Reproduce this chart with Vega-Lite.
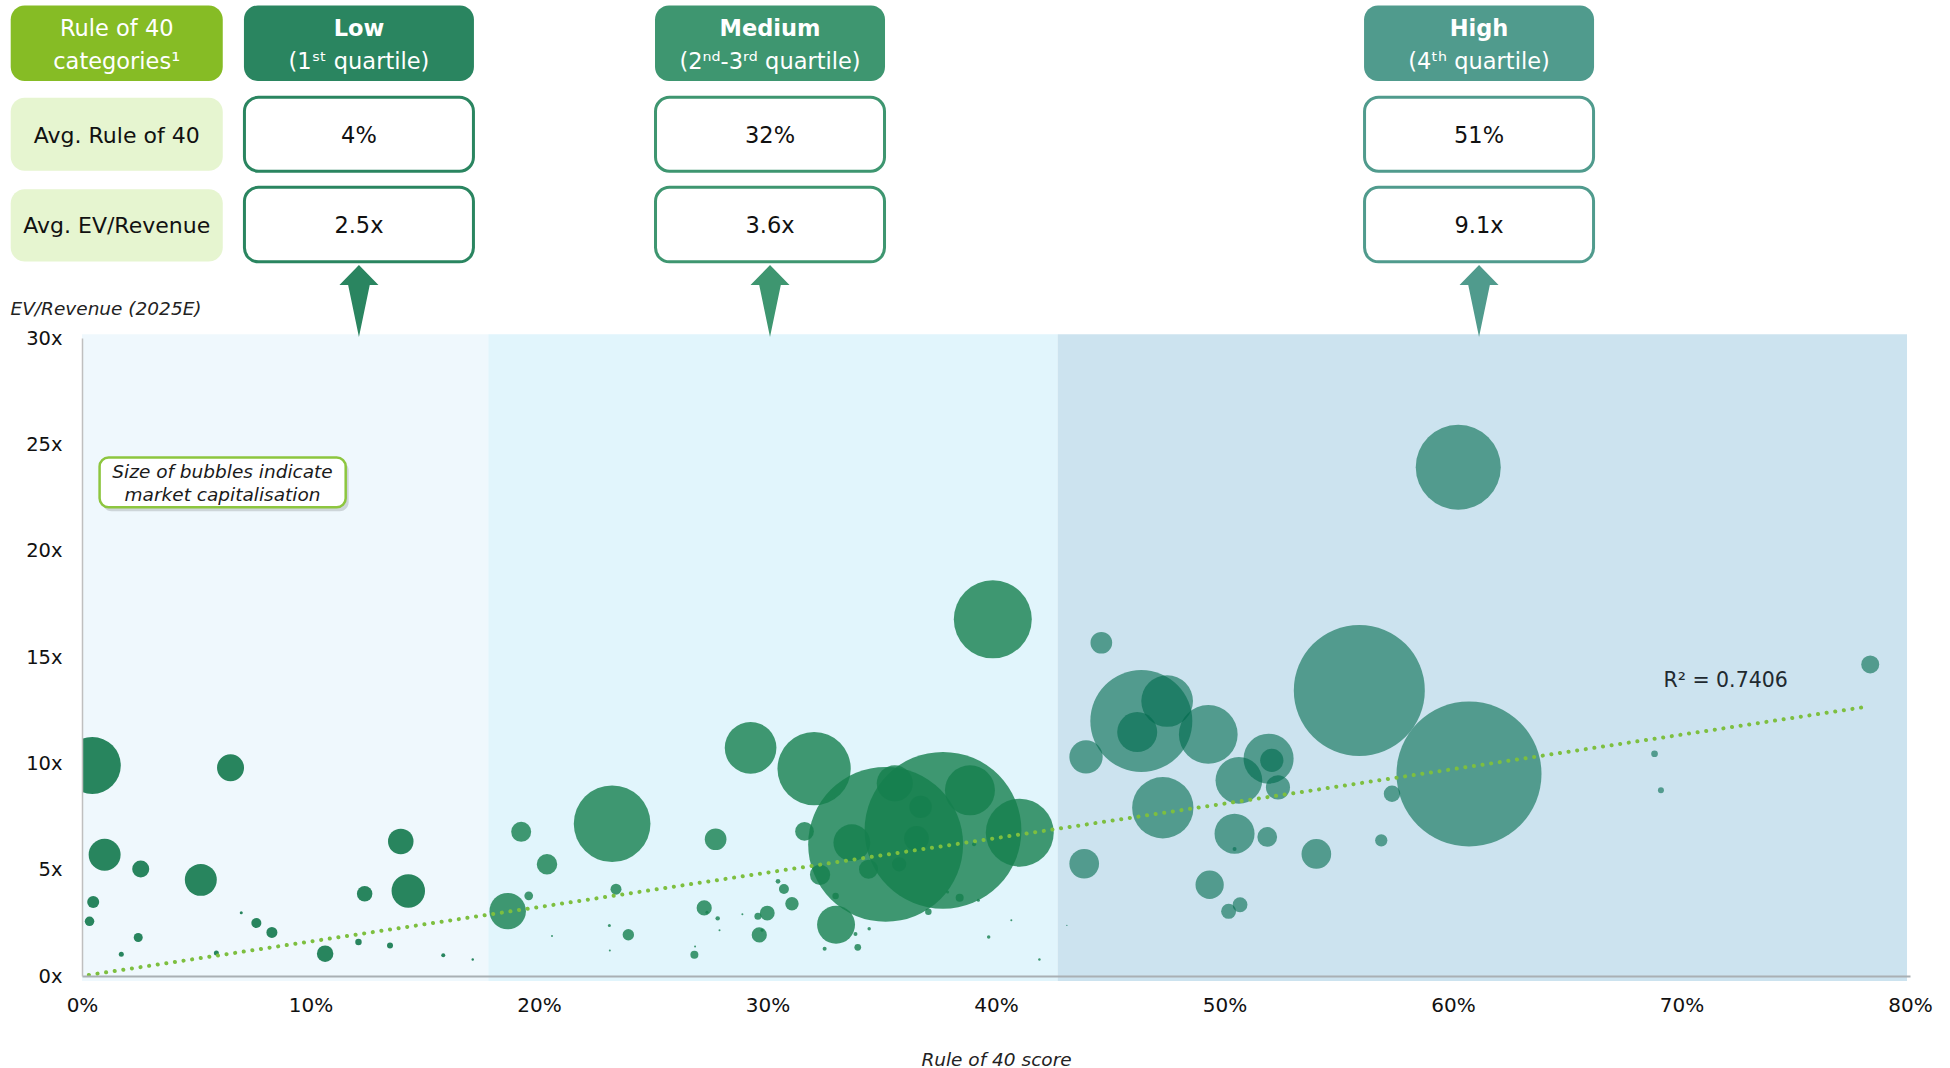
{
  "$schema": "https://vega.github.io/schema/vega-lite/v6.json",
  "width": 1828,
  "height": 638,
  "autosize": {"type": "none"},
  "padding": {"left": 82, "top": 338, "right": 40, "bottom": 92},
  "background": "white",
  "config": {"view": {"stroke": null}, "font": "DejaVu Sans"},
  "datasets": {
    "bands": [
      {"cat": "Low", "from": 0, "to": 17.78},
      {"cat": "Medium", "from": 17.78, "to": 42.7},
      {"cat": "High", "from": 42.7, "to": 79.87}
    ],
    "cats": [
      {"cat": "Low", "xc": 12.12, "title": "Low", "sub": "(1ˢᵗ quartile)", "avg40": "4%", "evrev": "2.5x"},
      {"cat": "Medium", "xc": 30.11, "title": "Medium", "sub": "(2ⁿᵈ-3ʳᵈ quartile)", "avg40": "32%", "evrev": "3.6x"},
      {"cat": "High", "xc": 61.14, "title": "High", "sub": "(4ᵗʰ quartile)", "avg40": "51%", "evrev": "9.1x"}
    ],
    "trend": [
      {"r40": 0.3, "ev": 0.05},
      {"r40": 78.1, "ev": 12.66}
    ],
    "bubbles": [
      {"cat": "Low", "r40": 0.45, "ev": 9.9, "mcap": 32.5},
      {"cat": "Low", "r40": 0.99, "ev": 5.7, "mcap": 10.2},
      {"cat": "Low", "r40": 2.57, "ev": 5.03, "mcap": 2.9},
      {"cat": "Low", "r40": 5.2, "ev": 4.52, "mcap": 10.2},
      {"cat": "Low", "r40": 0.49, "ev": 3.48, "mcap": 1.44},
      {"cat": "Low", "r40": 0.33, "ev": 2.57, "mcap": 0.9},
      {"cat": "Low", "r40": 2.46, "ev": 1.81, "mcap": 0.81},
      {"cat": "Low", "r40": 1.72, "ev": 1.02, "mcap": 0.25},
      {"cat": "Low", "r40": 5.88, "ev": 1.08, "mcap": 0.25},
      {"cat": "Low", "r40": 6.97, "ev": 2.97, "mcap": 0.09},
      {"cat": "Low", "r40": 6.5, "ev": 9.79, "mcap": 7.3},
      {"cat": "Low", "r40": 7.63, "ev": 2.49, "mcap": 1.0},
      {"cat": "Low", "r40": 8.31, "ev": 2.05, "mcap": 1.21},
      {"cat": "Low", "r40": 10.64, "ev": 1.05, "mcap": 2.72},
      {"cat": "Low", "r40": 12.1, "ev": 1.6, "mcap": 0.42},
      {"cat": "Low", "r40": 12.37, "ev": 3.87, "mcap": 2.4},
      {"cat": "Low", "r40": 13.48, "ev": 1.44, "mcap": 0.36},
      {"cat": "Low", "r40": 13.95, "ev": 6.33, "mcap": 6.5},
      {"cat": "Low", "r40": 14.28, "ev": 4.0, "mcap": 11.2},
      {"cat": "Low", "r40": 15.81, "ev": 0.97, "mcap": 0.16},
      {"cat": "Low", "r40": 17.1, "ev": 0.78, "mcap": 0.06},
      {"cat": "Medium", "r40": 18.63, "ev": 3.05, "mcap": 13.3},
      {"cat": "Medium", "r40": 19.22, "ev": 6.78, "mcap": 4.0},
      {"cat": "Medium", "r40": 19.55, "ev": 3.77, "mcap": 0.76},
      {"cat": "Medium", "r40": 20.35, "ev": 5.25, "mcap": 4.2},
      {"cat": "Medium", "r40": 20.57, "ev": 1.88, "mcap": 0.04},
      {"cat": "Medium", "r40": 29.26, "ev": 10.73, "mcap": 26.7},
      {"cat": "Medium", "r40": 32.04, "ev": 9.75, "mcap": 53.7},
      {"cat": "Medium", "r40": 23.2, "ev": 7.16, "mcap": 58.8},
      {"cat": "Medium", "r40": 39.86, "ev": 16.77, "mcap": 60.8},
      {"cat": "Medium", "r40": 35.17, "ev": 6.19, "mcap": 240},
      {"cat": "Medium", "r40": 37.68, "ev": 6.85, "mcap": 246},
      {"cat": "Medium", "r40": 38.86, "ev": 8.73, "mcap": 25},
      {"cat": "Medium", "r40": 41.04, "ev": 6.74, "mcap": 46.2},
      {"cat": "Medium", "r40": 35.57, "ev": 9.06, "mcap": 13},
      {"cat": "Medium", "r40": 36.7, "ev": 7.95, "mcap": 5},
      {"cat": "Medium", "r40": 33.69, "ev": 6.27, "mcap": 13.5},
      {"cat": "Medium", "r40": 36.52, "ev": 6.47, "mcap": 6.1},
      {"cat": "Medium", "r40": 31.62, "ev": 6.8, "mcap": 3.5},
      {"cat": "Medium", "r40": 32.3, "ev": 4.76, "mcap": 4.1},
      {"cat": "Medium", "r40": 34.42, "ev": 5.02, "mcap": 3.6},
      {"cat": "Medium", "r40": 35.76, "ev": 5.25, "mcap": 2.0},
      {"cat": "Medium", "r40": 33.0, "ev": 2.41, "mcap": 14.4},
      {"cat": "Medium", "r40": 31.07, "ev": 3.4, "mcap": 1.8},
      {"cat": "Medium", "r40": 30.72, "ev": 4.09, "mcap": 1.0},
      {"cat": "Medium", "r40": 30.46, "ev": 4.45, "mcap": 0.22},
      {"cat": "Medium", "r40": 29.99, "ev": 2.96, "mcap": 2.2},
      {"cat": "Medium", "r40": 29.58, "ev": 2.81, "mcap": 0.49},
      {"cat": "Medium", "r40": 29.64, "ev": 1.93, "mcap": 2.3},
      {"cat": "Medium", "r40": 29.76, "ev": 2.15, "mcap": 0.09},
      {"cat": "Medium", "r40": 27.23, "ev": 3.2, "mcap": 2.3},
      {"cat": "Medium", "r40": 27.82, "ev": 2.71, "mcap": 0.2},
      {"cat": "Medium", "r40": 27.9, "ev": 2.15, "mcap": 0.04},
      {"cat": "Medium", "r40": 28.9, "ev": 2.9, "mcap": 0.04},
      {"cat": "Medium", "r40": 27.73, "ev": 6.43, "mcap": 4.7},
      {"cat": "Medium", "r40": 26.8, "ev": 1.0, "mcap": 0.64},
      {"cat": "Medium", "r40": 26.83, "ev": 1.39, "mcap": 0.04},
      {"cat": "Medium", "r40": 23.91, "ev": 1.94, "mcap": 1.3},
      {"cat": "Medium", "r40": 23.37, "ev": 4.08, "mcap": 1.2},
      {"cat": "Medium", "r40": 23.08, "ev": 2.37, "mcap": 0.09},
      {"cat": "Medium", "r40": 23.1, "ev": 1.2, "mcap": 0.04},
      {"cat": "Medium", "r40": 32.98, "ev": 3.76, "mcap": 0.42},
      {"cat": "Medium", "r40": 32.5, "ev": 1.28, "mcap": 0.16},
      {"cat": "Medium", "r40": 33.85, "ev": 1.97, "mcap": 0.16},
      {"cat": "Medium", "r40": 33.95, "ev": 1.35, "mcap": 0.45},
      {"cat": "Medium", "r40": 34.45, "ev": 2.22, "mcap": 0.12},
      {"cat": "Medium", "r40": 37.04, "ev": 3.02, "mcap": 0.42},
      {"cat": "Medium", "r40": 37.88, "ev": 3.95, "mcap": 0.09},
      {"cat": "Medium", "r40": 38.41, "ev": 3.68, "mcap": 0.64},
      {"cat": "Medium", "r40": 39.04, "ev": 6.19, "mcap": 0.16},
      {"cat": "Medium", "r40": 39.23, "ev": 3.56, "mcap": 0.09},
      {"cat": "Medium", "r40": 40.67, "ev": 2.62, "mcap": 0.04},
      {"cat": "Medium", "r40": 39.68, "ev": 1.83, "mcap": 0.12},
      {"cat": "Medium", "r40": 41.9, "ev": 0.78, "mcap": 0.06},
      {"cat": "Medium", "r40": 27.35, "ev": 3.0, "mcap": 0.09},
      {"cat": "High", "r40": 43.1, "ev": 2.38, "mcap": 0.02},
      {"cat": "High", "r40": 60.23, "ev": 23.92, "mcap": 72.3},
      {"cat": "High", "r40": 55.9, "ev": 13.43, "mcap": 171.6},
      {"cat": "High", "r40": 60.7, "ev": 9.5, "mcap": 210.3},
      {"cat": "High", "r40": 44.61, "ev": 15.67, "mcap": 4.7},
      {"cat": "High", "r40": 46.36, "ev": 11.99, "mcap": 104},
      {"cat": "High", "r40": 47.49, "ev": 12.93, "mcap": 26.7},
      {"cat": "High", "r40": 46.18, "ev": 11.47, "mcap": 16},
      {"cat": "High", "r40": 49.29, "ev": 11.36, "mcap": 34.5},
      {"cat": "High", "r40": 43.94, "ev": 10.3, "mcap": 11.1},
      {"cat": "High", "r40": 51.93, "ev": 10.22, "mcap": 25},
      {"cat": "High", "r40": 52.07, "ev": 10.14, "mcap": 5.4},
      {"cat": "High", "r40": 50.63, "ev": 9.2, "mcap": 21.8},
      {"cat": "High", "r40": 52.34, "ev": 8.87, "mcap": 5.8},
      {"cat": "High", "r40": 47.3, "ev": 7.91, "mcap": 37.6},
      {"cat": "High", "r40": 50.44, "ev": 6.69, "mcap": 16},
      {"cat": "High", "r40": 50.44, "ev": 5.97, "mcap": 0.16},
      {"cat": "High", "r40": 51.87, "ev": 6.54, "mcap": 3.9},
      {"cat": "High", "r40": 54.02, "ev": 5.74, "mcap": 8.8},
      {"cat": "High", "r40": 56.86, "ev": 6.38, "mcap": 1.5},
      {"cat": "High", "r40": 57.33, "ev": 8.57, "mcap": 2.7},
      {"cat": "High", "r40": 68.82, "ev": 10.45, "mcap": 0.45},
      {"cat": "High", "r40": 69.1, "ev": 8.73, "mcap": 0.36},
      {"cat": "High", "r40": 43.86, "ev": 5.28, "mcap": 8.8},
      {"cat": "High", "r40": 49.35, "ev": 4.29, "mcap": 8.0},
      {"cat": "High", "r40": 50.68, "ev": 3.35, "mcap": 2.2},
      {"cat": "High", "r40": 50.18, "ev": 3.04, "mcap": 2.25},
      {"cat": "High", "r40": 78.26, "ev": 14.65, "mcap": 3.24}
    ]
  },
  "resolve": {"scale": {"fill": "independent", "stroke": "independent"}},
  "layer": [
    {
      "data": {"name": "bands"},
      "mark": {"type": "rect"},
      "encoding": {
        "x": {"field": "from", "type": "quantitative", "scale": {"domain": [0, 80], "nice": false}},
        "x2": {"field": "to"},
        "y": {"datum": 30.18, "type": "quantitative", "scale": {"domain": [0, 30], "nice": false}},
        "y2": {"datum": -0.235},
        "fill": {"field": "cat", "type": "nominal", "scale": {"domain": ["Low", "Medium", "High"], "range": ["#EFF8FD", "#E1F5FC", "#CCE3EF"]}, "legend": null}
      }
    },
    {
      "data": {"name": "bubbles"},
      "mark": {"type": "point", "shape": "circle", "filled": true, "strokeWidth": 0, "opacity": 1, "clip": true},
      "encoding": {
        "x": {
          "field": "r40", "type": "quantitative", "title": "Rule of 40 score",
          "scale": {"domain": [0, 80], "nice": false},
          "axis": {
            "values": [0, 10, 20, 30, 40, 50, 60, 70, 80],
            "labelExpr": "datum.value + '%'",
            "grid": false, "ticks": false, "labelFlush": false, "labelOverlap": false,
            "domainColor": "#A9B0B4", "domainWidth": 2,
            "labelFontSize": 20, "labelColor": "#111111", "labelPadding": 19, "labelFont": "DejaVu Sans",
            "titleFont": "DejaVu Sans", "titleFontSize": 18.5, "titleFontStyle": "italic", "titleFontWeight": "normal",
            "titleColor": "#222222", "titleY": 83, "titleBaseline": "middle", "zindex": 1
          }
        },
        "y": {
          "field": "ev", "type": "quantitative", "title": "EV/Revenue (2025E)",
          "scale": {"domain": [0, 30], "nice": false},
          "axis": {
            "values": [0, 5, 10, 15, 20, 25, 30],
            "labelExpr": "datum.value + 'x'",
            "grid": false, "ticks": false,
            "domainColor": "#BFBFBF", "domainWidth": 1.5,
            "labelFontSize": 19.5, "labelColor": "#111111", "labelPadding": 20, "labelFont": "DejaVu Sans",
            "titleFont": "DejaVu Sans", "titleFontSize": 18.5, "titleFontStyle": "italic", "titleFontWeight": "normal",
            "titleColor": "#222222", "titleAngle": 0, "titleAlign": "left", "titleBaseline": "middle",
            "titleX": -72, "titleY": -30, "zindex": 1
          }
        },
        "size": {"field": "mcap", "type": "quantitative", "scale": {"type": "linear", "domain": [0, 250], "range": [0, 25000], "zero": true}, "legend": null},
        "color": {"field": "cat", "type": "nominal", "scale": {"domain": ["Low", "Medium", "High"], "range": ["rgba(18,120,77,0.9)", "rgba(21,127,77,0.8)", "rgba(0,107,76,0.6)"]}, "legend": null},
        "order": {"field": "mcap", "sort": "descending"}
      }
    },
    {
      "data": {"name": "trend"},
      "mark": {"type": "line", "color": "#7DBF3F", "strokeWidth": 4, "strokeDash": [0.1, 8.6], "strokeCap": "round"},
      "encoding": {
        "x": {"field": "r40", "type": "quantitative", "scale": {"domain": [0, 80], "nice": false}},
        "y": {"field": "ev", "type": "quantitative", "scale": {"domain": [0, 30], "nice": false}}
      }
    },
    {
      "data": {"values": [{}]},
      "mark": {"type": "text", "text": "R² = 0.7406", "fontSize": 20.5, "color": "#1F2A30", "align": "center", "baseline": "middle", "font": "DejaVu Sans"},
      "encoding": {
        "x": {"datum": 71.93, "type": "quantitative"},
        "y": {"datum": 13.88, "type": "quantitative"}
      }
    },
    {
      "data": {"values": [{}]},
      "mark": {"type": "rect", "fill": "#000000", "opacity": 0.14, "cornerRadius": 9, "xOffset": 3, "x2Offset": 3, "yOffset": 4, "y2Offset": 4},
      "encoding": {
        "x": {"datum": 0.77, "type": "quantitative"}, "x2": {"datum": 11.54},
        "y": {"datum": 24.38, "type": "quantitative"}, "y2": {"datum": 22.04}
      }
    },
    {
      "data": {"values": [{}]},
      "mark": {"type": "rect", "fill": "#FFFFFF", "stroke": "#8DC63F", "strokeWidth": 2.5, "cornerRadius": 9},
      "encoding": {
        "x": {"datum": 0.77, "type": "quantitative"}, "x2": {"datum": 11.54},
        "y": {"datum": 24.38, "type": "quantitative"}, "y2": {"datum": 22.04}
      }
    },
    {
      "data": {"values": [{}]},
      "mark": {"type": "text", "text": ["Size of bubbles indicate", "market capitalisation"], "lineHeight": 22.6, "fontSize": 18.5, "fontStyle": "italic", "color": "#1A1A1A", "align": "center", "baseline": "middle", "font": "DejaVu Sans"},
      "encoding": {
        "x": {"datum": 6.15, "type": "quantitative"},
        "y": {"datum": 23.7, "type": "quantitative"}
      }
    },
    {
      "data": {"values": [{}]},
      "mark": {"type": "rect", "fill": "#86BC25", "cornerRadius": 14},
      "encoding": {
        "x": {"datum": -3.12, "type": "quantitative"}, "x2": {"datum": 6.16},
        "y": {"datum": 45.64, "type": "quantitative"}, "y2": {"datum": 42.09}
      }
    },
    {
      "data": {"values": [{}]},
      "mark": {"type": "rect", "fill": "#E6F5D0", "cornerRadius": 14},
      "encoding": {
        "x": {"datum": -3.12, "type": "quantitative"}, "x2": {"datum": 6.16},
        "y": {"datum": 41.3, "type": "quantitative"}, "y2": {"datum": 37.86}
      }
    },
    {
      "data": {"values": [{}]},
      "mark": {"type": "rect", "fill": "#E6F5D0", "cornerRadius": 14},
      "encoding": {
        "x": {"datum": -3.12, "type": "quantitative"}, "x2": {"datum": 6.16},
        "y": {"datum": 37.0, "type": "quantitative"}, "y2": {"datum": 33.6}
      }
    },
    {
      "data": {"values": [{}]},
      "mark": {"type": "text", "text": "Rule of 40", "fontSize": 22.5, "color": "#FFFFFF", "align": "center", "baseline": "middle", "font": "DejaVu Sans"},
      "encoding": {"x": {"datum": 1.52, "type": "quantitative"}, "y": {"datum": 44.52, "type": "quantitative"}}
    },
    {
      "data": {"values": [{}]},
      "mark": {"type": "text", "text": "categories¹", "fontSize": 22.5, "color": "#FFFFFF", "align": "center", "baseline": "middle", "font": "DejaVu Sans"},
      "encoding": {"x": {"datum": 1.52, "type": "quantitative"}, "y": {"datum": 42.99, "type": "quantitative"}}
    },
    {
      "data": {"values": [{}]},
      "mark": {"type": "text", "text": "Avg. Rule of 40", "fontSize": 22, "color": "#111111", "align": "center", "baseline": "middle", "font": "DejaVu Sans"},
      "encoding": {"x": {"datum": 1.52, "type": "quantitative"}, "y": {"datum": 39.49, "type": "quantitative"}}
    },
    {
      "data": {"values": [{}]},
      "mark": {"type": "text", "text": "Avg. EV/Revenue", "fontSize": 22, "color": "#111111", "align": "center", "baseline": "middle", "font": "DejaVu Sans"},
      "encoding": {"x": {"datum": 1.52, "type": "quantitative"}, "y": {"datum": 35.28, "type": "quantitative"}}
    },
    {
      "data": {"name": "cats"},
      "mark": {"type": "rect", "cornerRadius": 14, "xOffset": -115, "x2Offset": 115},
      "encoding": {
        "x": {"field": "xc", "type": "quantitative"}, "x2": {"field": "xc"},
        "y": {"datum": 45.64, "type": "quantitative"}, "y2": {"datum": 42.09},
        "fill": {"field": "cat", "type": "nominal", "scale": {"domain": ["Low", "Medium", "High"], "range": ["#2A8560", "#3E9670", "#509B8D"]}, "legend": null}
      }
    },
    {
      "data": {"name": "cats"},
      "mark": {"type": "rect", "cornerRadius": 14, "fill": "#FFFFFF", "strokeWidth": 3, "xOffset": -114.5, "x2Offset": 114.5},
      "encoding": {
        "x": {"field": "xc", "type": "quantitative"}, "x2": {"field": "xc"},
        "y": {"datum": 41.32, "type": "quantitative"}, "y2": {"datum": 37.84},
        "stroke": {"field": "cat", "type": "nominal", "scale": {"domain": ["Low", "Medium", "High"], "range": ["#2A8560", "#3E9670", "#509B8D"]}, "legend": null}
      }
    },
    {
      "data": {"name": "cats"},
      "mark": {"type": "rect", "cornerRadius": 14, "fill": "#FFFFFF", "strokeWidth": 3, "xOffset": -114.5, "x2Offset": 114.5},
      "encoding": {
        "x": {"field": "xc", "type": "quantitative"}, "x2": {"field": "xc"},
        "y": {"datum": 37.09, "type": "quantitative"}, "y2": {"datum": 33.58},
        "stroke": {"field": "cat", "type": "nominal", "scale": {"domain": ["Low", "Medium", "High"], "range": ["#2A8560", "#3E9670", "#509B8D"]}, "legend": null}
      }
    },
    {
      "data": {"name": "cats"},
      "mark": {"type": "text", "fontSize": 22.5, "fontWeight": "bold", "color": "#FFFFFF", "align": "center", "baseline": "middle", "font": "DejaVu Sans"},
      "encoding": {
        "x": {"field": "xc", "type": "quantitative"},
        "y": {"datum": 44.52, "type": "quantitative"},
        "text": {"field": "title"}
      }
    },
    {
      "data": {"name": "cats"},
      "mark": {"type": "text", "fontSize": 22.5, "color": "#FFFFFF", "align": "center", "baseline": "middle", "font": "DejaVu Sans"},
      "encoding": {
        "x": {"field": "xc", "type": "quantitative"},
        "y": {"datum": 42.99, "type": "quantitative"},
        "text": {"field": "sub"}
      }
    },
    {
      "data": {"name": "cats"},
      "mark": {"type": "text", "fontSize": 22.5, "color": "#111111", "align": "center", "baseline": "middle", "font": "DejaVu Sans"},
      "encoding": {
        "x": {"field": "xc", "type": "quantitative"},
        "y": {"datum": 39.49, "type": "quantitative"},
        "text": {"field": "avg40"}
      }
    },
    {
      "data": {"name": "cats"},
      "mark": {"type": "text", "fontSize": 22.5, "color": "#111111", "align": "center", "baseline": "middle", "font": "DejaVu Sans"},
      "encoding": {
        "x": {"field": "xc", "type": "quantitative"},
        "y": {"datum": 35.28, "type": "quantitative"},
        "text": {"field": "evrev"}
      }
    },
    {
      "data": {"name": "cats"},
      "mark": {"type": "point", "shape": "M0,-1L0.542,-0.444L0.3,-0.444L0,1L-0.3,-0.444L-0.542,-0.444Z", "size": 5184, "filled": true, "strokeWidth": 0, "opacity": 1},
      "encoding": {
        "x": {"field": "xc", "type": "quantitative"},
        "y": {"datum": 31.74, "type": "quantitative"},
        "fill": {"field": "cat", "type": "nominal", "scale": {"domain": ["Low", "Medium", "High"], "range": ["#2A8560", "#3E9670", "#509B8D"]}, "legend": null}
      }
    }
  ]
}
